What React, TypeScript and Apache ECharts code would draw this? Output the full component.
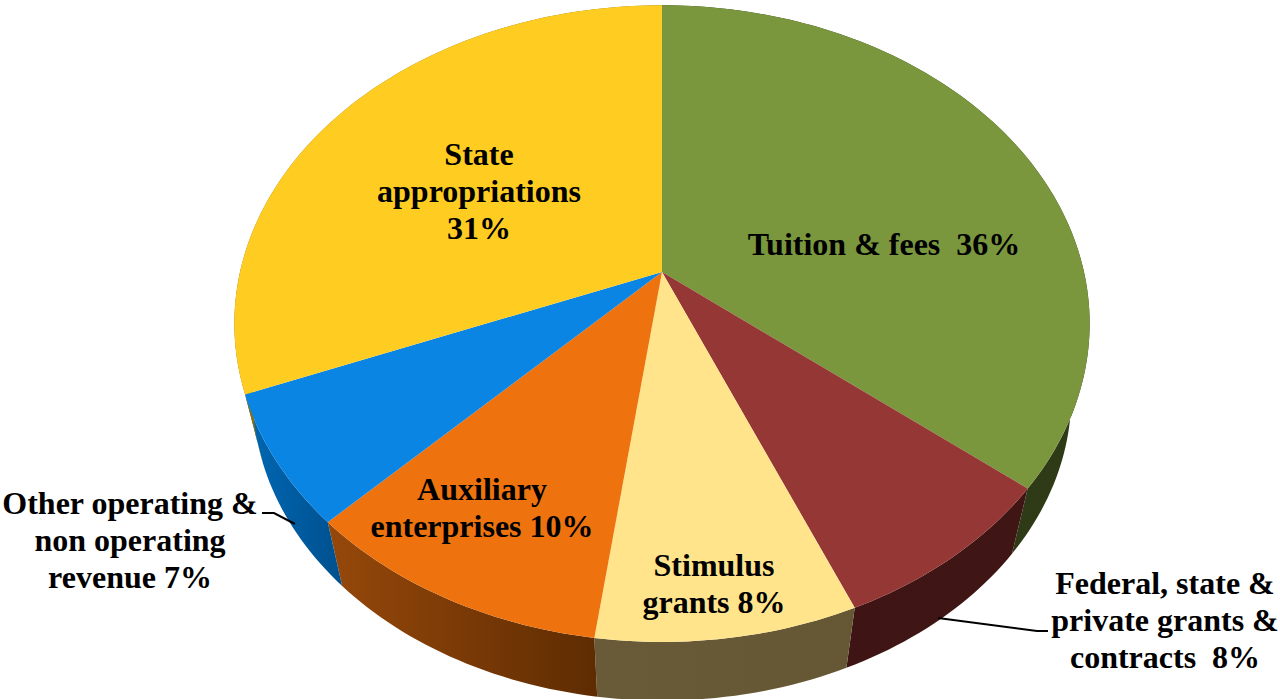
import React, { useEffect, useRef } from "react";
import * as echarts from "echarts";

const categories = [
  "Tuition & fees",
  "Federal, state & private grants & contracts",
  "Stimulus grants",
  "Auxiliary enterprises",
  "Other operating & non operating revenue",
  "State appropriations",
];
const shares = [35.8, 7.85, 8.5, 10.2, 6.6, 31.05];
const labelTexts = [
  "Tuition & fees  36%",
  "Federal, state &\nprivate grants &\ncontracts  8%",
  "Stimulus\ngrants 8%",
  "Auxiliary\nenterprises 10%",
  "Other operating &\nnon operating\nrevenue 7%",
  "State\nappropriations\n31%",
];
const topColors = ["#7a973e", "#953735", "#ffe48c", "#ee730f", "#0a85e4", "#ffcd22"];
const wallColors = [
  ["#2c3715", "#2f3b17"],
  ["#3e1514", "#401615"],
  ["#6a5b38", "#665734"],
  ["#96480a", "#5e2c02"],
  ["#0068b4", "#00508e"],
  ["#8a6e10", "#8a6e10"],
];
const labelAnchors = [
  [884, 244],
  [1165, 620],
  [714, 583.5],
  [482, 507.5],
  [130, 540],
  [479, 191],
];
const leaders = [
  [[938, 618], [1037, 631], [1048, 631]],
  [[262, 513], [274, 513], [295, 524]],
];

const TOTAL = shares.reduce((a, b) => a + b, 0);
const starts = shares.reduce<number[]>((acc, v, i) => {
  acc.push(i === 0 ? 0 : acc[i - 1] + shares[i - 1]);
  return acc;
}, []);

// A tilted disc in perspective: the unit circle projected onto the page.
const CX = 662;
const CY = 272;
const A = 422;
const B = 310;
const K = 0.162;
const FLOOR_SCALE = 0.957;
const FLOOR_CY = 346.5;

function rim(share: number, floor: boolean): number[] {
  const t = (share / TOTAL) * 2 * Math.PI;
  const u = Math.sin(t);
  const v = -Math.cos(t);
  const w = 1 - K * v;
  const s = floor ? FLOOR_SCALE : 1;
  return [CX + (s * A * u) / w, (floor ? FLOOR_CY : CY) + (s * B * v) / w];
}

function arc(from: number, to: number, floor: boolean): number[][] {
  const n = Math.max(2, Math.ceil((to - from) * 3));
  const pts: number[][] = [];
  for (let i = 0; i <= n; i++) pts.push(rim(from + ((to - from) * i) / n, floor));
  return pts;
}

export default function App() {
  const ref = useRef<HTMLDivElement>(null);
  useEffect(() => {
    if (!ref.current) return;
    const chart = echarts.init(ref.current, undefined, { renderer: "svg" });
    const seriesData = categories.map((name, i) => ({ name, value: shares[i] }));
    const option: any = {
      animation: false,
      backgroundColor: "#ffffff",
      series: [
        {
          type: "custom",
          name: "walls",
          coordinateSystem: "none",
          silent: true,
          data: seriesData,
          renderItem: (params: any) => {
            const i = params.dataIndex;
            const from = starts[i];
            const to = from + shares[i];
            const points = [...arc(from, to, false), ...arc(from, to, true).reverse()];
            return {
              type: "polygon",
              shape: { points },
              style: {
                fill: new echarts.graphic.LinearGradient(0, 0, 1, 0, [
                  { offset: 0, color: wallColors[i][0] },
                  { offset: 1, color: wallColors[i][1] },
                ]),
              },
            };
          },
        },
        {
          type: "custom",
          name: "tops",
          coordinateSystem: "none",
          silent: true,
          data: seriesData,
          renderItem: (params: any) => {
            const i = params.dataIndex;
            const from = starts[i];
            const to = from + shares[i];
            const points = [[CX, CY], ...arc(from, to, false)];
            return {
              type: "polygon",
              shape: { points },
              style: { fill: topColors[i] },
            };
          },
        },
      ],
      graphic: [
        ...leaders.map((points) => ({
          type: "polyline",
          shape: { points },
          style: { stroke: "#000000", lineWidth: 2, fill: "none" },
          z: 20,
        })),
        ...labelTexts.map((text, i) => ({
          type: "text",
          x: labelAnchors[i][0],
          y: labelAnchors[i][1],
          z: 30,
          style: {
            text,
            fill: "#000000",
            font: 'bold 32px "Liberation Serif"',
            lineHeight: 37,
            align: "center",
            verticalAlign: "middle",
          },
        })),
      ],
    };
    chart.setOption(option);
    return () => chart.dispose();
  }, []);
  return (
    <div
      ref={ref}
      style={{ position: "fixed", left: 0, top: 0, width: 1280, height: 699 }}
    />
  );
}
